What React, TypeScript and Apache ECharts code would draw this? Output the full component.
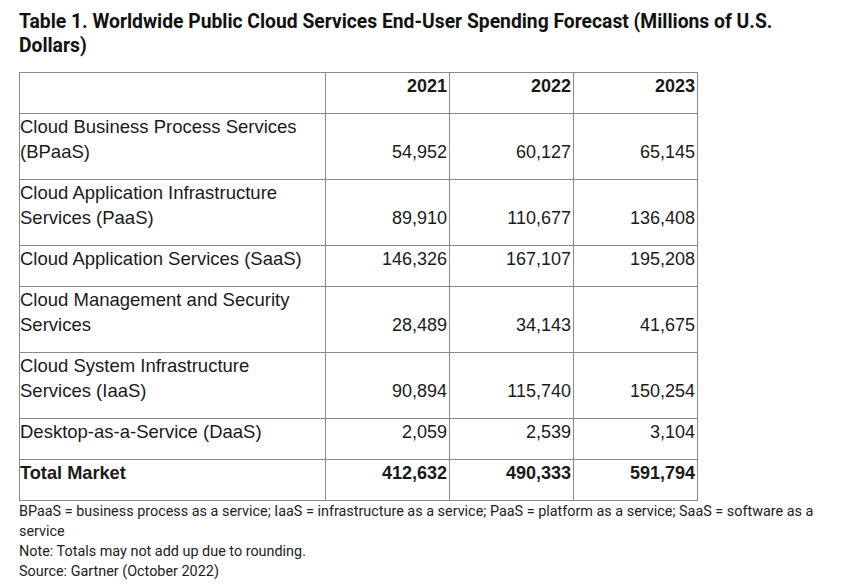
import React, { useEffect, useRef } from "react";
import * as echarts from "echarts";

const titleLines = [
  "Table 1. Worldwide Public Cloud Services End-User Spending Forecast (Millions of U.S.",
  "Dollars)",
];
const years = ["2021", "2022", "2023"];
const categories: string[][] = [
  ["Cloud Business Process Services", "(BPaaS)"],
  ["Cloud Application Infrastructure", "Services (PaaS)"],
  ["Cloud Application Services (SaaS)"],
  ["Cloud Management and Security", "Services"],
  ["Cloud System Infrastructure", "Services (IaaS)"],
  ["Desktop-as-a-Service (DaaS)"],
];
const values2021 = [54952, 89910, 146326, 28489, 90894, 2059];
const values2022 = [60127, 110677, 167107, 34143, 115740, 2539];
const values2023 = [65145, 136408, 195208, 41675, 150254, 3104];
const totalLabel = "Total Market";
const totals = [412632, 490333, 591794];
const footnotes = [
  "BPaaS = business process as a service; IaaS = infrastructure as a service; PaaS = platform as a service; SaaS = software as a",
  "service",
  "Note: Totals may not add up due to rounding.",
  "Source: Gartner (October 2022)",
];

const fmt = (v: number) => v.toLocaleString("en-US");

export default function App() {
  const ref = useRef<HTMLDivElement>(null);
  useEffect(() => {
    document.body.style.margin = "0";
    const chart = echarts.init(ref.current!, undefined, { renderer: "svg" });

    const bodyFont = "Liberation Sans, Arial, sans-serif";
    const textColor = "#1a1a1a";
    const border = "#8a8a8a";
    const colX = [19, 325, 449, 573, 697];
    const tableTop = 72;
    const lineH = 25;
    const rowH = (n: number) => 16 + lineH * n;

    const els: any[] = [];

    titleLines.forEach((t, i) => {
      els.push({
        type: "text",
        x: 19,
        y: 21 + 24 * i,
        style: {
          text: t,
          fontFamily: "Roboto, sans-serif",
          fontWeight: "bold",
          fontSize: 19.3,
          fill: "#111",
          verticalAlign: "middle",
          align: "left",
        },
      });
    });

    const rows: { label: string[]; vals: string[]; bold: boolean }[] = [];
    rows.push({ label: [""], vals: years, bold: true });
    categories.forEach((c, i) =>
      rows.push({
        label: c,
        vals: [fmt(values2021[i]), fmt(values2022[i]), fmt(values2023[i])],
        bold: false,
      })
    );
    rows.push({ label: [totalLabel], vals: totals.map(fmt), bold: true });

    const rowYs: number[] = [tableTop];
    let y = tableTop;
    rows.forEach((r) => {
      const h = rowH(r.label.length);
      const fontWeight = r.bold ? "bold" : "normal";
      r.label.forEach((l, li) => {
        els.push({
          type: "text",
          x: colX[0] + 1,
          y: y + 1 + lineH / 2 + lineH * li,
          style: {
            text: l,
            fontFamily: bodyFont,
            fontSize: r.bold ? 18.2 : 18.5,
            fontWeight,
            fill: textColor,
            verticalAlign: "middle",
            align: "left",
          },
        });
      });
      r.vals.forEach((v, vi) => {
        els.push({
          type: "text",
          x: colX[vi + 2] - 2,
          y: y + 1 + lineH / 2 + lineH * (r.label.length - 1),
          style: {
            text: v,
            fontFamily: bodyFont,
            fontSize: 18,
            fontWeight,
            fill: textColor,
            verticalAlign: "middle",
            align: "right",
          },
        });
      });
      y += h;
      rowYs.push(y);
    });
    const tableBottom = y;

    rowYs.forEach((ry) => {
      els.push({
        type: "line",
        shape: { x1: colX[0], y1: ry + 0.5, x2: colX[colX.length - 1] + 1, y2: ry + 0.5 },
        style: { stroke: border, lineWidth: 1 },
      });
    });
    colX.forEach((cx) => {
      els.push({
        type: "line",
        shape: { x1: cx + 0.5, y1: tableTop, x2: cx + 0.5, y2: tableBottom + 1 },
        style: { stroke: border, lineWidth: 1 },
      });
    });

    footnotes.forEach((t, i) => {
      els.push({
        type: "text",
        x: 19,
        y: tableBottom + 11 + 20 * i,
        style: {
          text: t,
          fontFamily: "Roboto, sans-serif",
          fontSize: 14.4,
          fill: "#222",
          verticalAlign: "middle",
          align: "left",
        },
      });
    });

    chart.setOption({
      animation: false,
      backgroundColor: "#ffffff",
      graphic: { elements: els },
    });
    return () => chart.dispose();
  }, []);
  return <div ref={ref} style={{ width: 847, height: 586 }} />;
}
